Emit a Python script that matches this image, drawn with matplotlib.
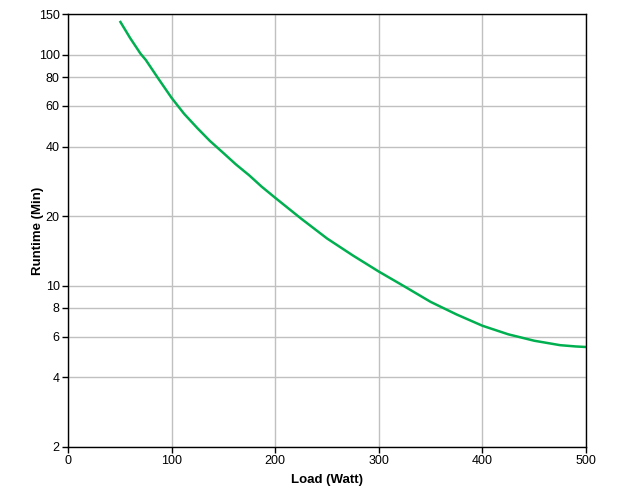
import numpy as np
import matplotlib
matplotlib.use('Agg')
import matplotlib.pyplot as plt
from matplotlib.ticker import FixedLocator, FixedFormatter, NullLocator

#%% data
load = [50, 60, 70, 75, 87, 100, 112, 125, 137, 150, 162, 175, 187, 200, 225, 250,
        275, 300, 325, 350, 375, 400, 425, 450, 475, 490, 500]
runtime = [140, 118, 101, 95, 79, 65, 55.5, 48, 42.3, 37.5, 33.5, 30, 26.8, 24, 19.5, 16,
           13.5, 11.5, 9.9, 8.5, 7.5, 6.7, 6.15, 5.77, 5.52, 5.45, 5.42]

yticks = [2, 4, 6, 8, 10, 20, 40, 60, 80, 100, 150]
xticks = [0, 100, 200, 300, 400, 500]

#%% plot
plt.rcParams['font.family'] = ['Liberation Sans', 'DejaVu Sans']

fig = plt.figure(figsize=(6.42, 4.95), dpi=100)
ax = fig.add_axes([0.1059, 0.097, 0.8069, 0.8747])

ax.plot(load, runtime, color='#00b050', lw=1.8, solid_capstyle='butt')

ax.set_yscale('log')
ax.set_xlim(0, 500)
ax.set_ylim(2, 150)
ax.yaxis.set_major_locator(FixedLocator(yticks))
ax.yaxis.set_major_formatter(FixedFormatter([str(t) for t in yticks]))
ax.yaxis.set_minor_locator(NullLocator())
ax.set_xticks(xticks)

ax.grid(True, color='#c0c0c0', lw=1)
ax.set_axisbelow(True)
for s in ax.spines.values():
    s.set_color('black')
    s.set_linewidth(1)
ax.tick_params(axis='both', length=4, width=1, labelsize=9, color='black', pad=2)

ax.set_xlabel('Load (Watt)', fontsize=9.5, fontweight='bold', labelpad=5)
ax.set_ylabel('Runtime (Min)', fontsize=9.5, fontweight='bold', labelpad=-4)

fig.savefig('out.png', dpi=100)
